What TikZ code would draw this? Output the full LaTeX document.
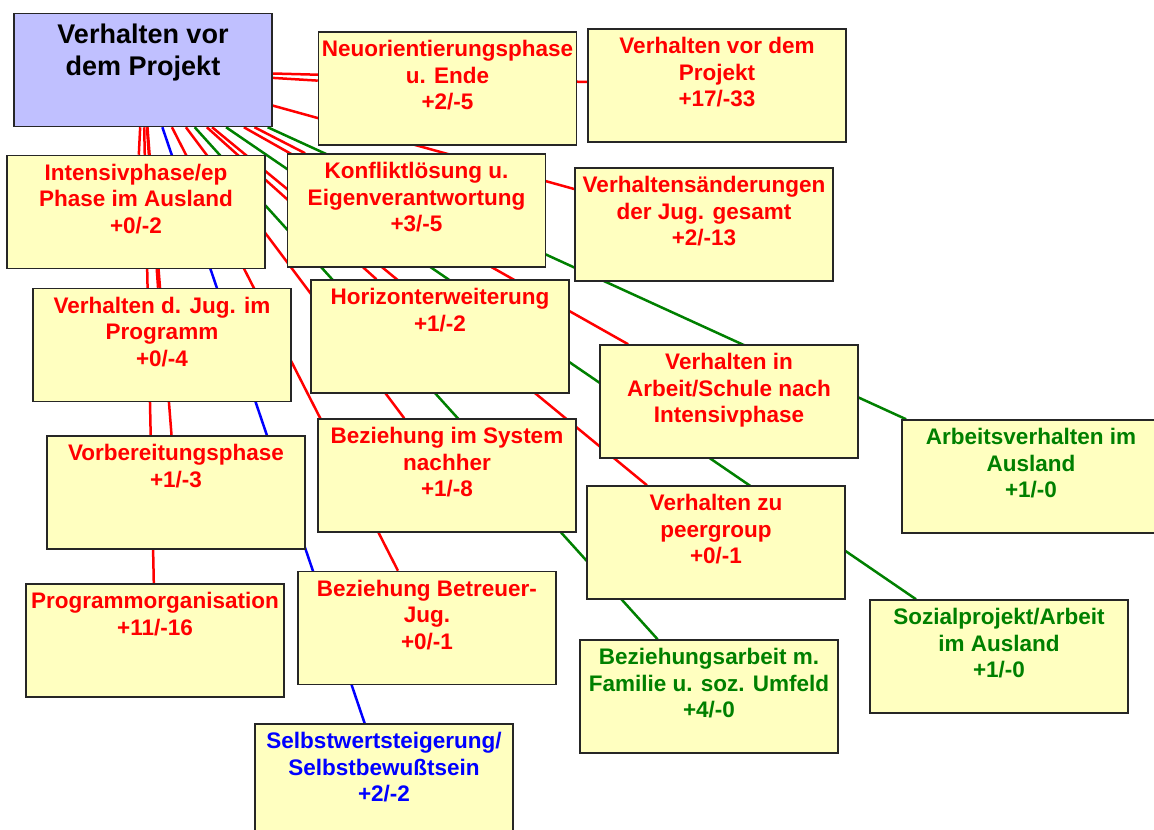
\documentclass[tikz,border=0pt]{standalone}
\usepackage{fontspec}
\setmainfont{Liberation Sans}
\usetikzlibrary{backgrounds}

\definecolor{cellyellow}{RGB}{255,255,192}
\definecolor{rootlilac}{RGB}{192,192,255}
\definecolor{linkred}{RGB}{255,0,0}
\definecolor{linkgreen}{RGB}{0,128,0}
\definecolor{linkblue}{RGB}{0,0,255}

\newcommand{\cellbody}[2][6.3pt]{\parbox[c][113pt][t]{258pt}{\centering\vspace*{#1}\strut#2}}

\begin{document}
\begin{tikzpicture}[%
    x=1pt, y=-1pt,
    cellnode/.style={
        draw=black!85,
        line width=1.5pt,
        fill=cellyellow,
        rectangle,
        inner sep=0pt,
        font=\bfseries\fontsize{22.5}{26.5}\selectfont,
        text=linkred
        },
    rootnode/.style={%
        cellnode,
        fill=rootlilac,
        font=\bfseries\fontsize{27}{32}\selectfont,
        text=black},
    link/.style={line width=2.5pt},
]

\useasboundingbox (0,0) rectangle (1154,830);

\node[rootnode] (root) at (143,70) {\cellbody[7.3pt]{Verhalten vor\\dem Projekt}};

\node[cellnode] (neu) at (447.5,88.5) {\cellbody{Neuorientierungsphase\\u. Ende\\+2/-5}};
\node[cellnode] (vor) at (717,85.5) {\cellbody{Verhalten vor dem\\Projekt\\+17/-33}};
\node[cellnode] (intens) at (136,212) {\cellbody{Intensivphase/ep\\Phase im Ausland\\+0/-2}};
\node[cellnode] (konflikt) at (416.5,210.5) {\cellbody{Konfliktlösung u.\\Eigenverantwortung\\+3/-5}};
\node[cellnode] (gesamt) at (704,224.5) {\cellbody{Verhaltensänderungen\\der Jug. gesamt\\+2/-13}};
\node[cellnode] (programm) at (162,345) {\cellbody{Verhalten d. Jug. im\\Programm\\+0/-4}};
\node[cellnode] (horizont) at (440,336.5) {\cellbody{Horizonterweiterung\\+1/-2}};
\node[cellnode] (schule) at (729,401.5) {\cellbody{Verhalten in\\Arbeit/Schule nach\\Intensivphase}};
\node[cellnode, text=linkgreen] (arbeit) at (1031,476.5) {\cellbody{Arbeitsverhalten im\\Ausland\\+1/-0}};
\node[cellnode] (system) at (447,475.5) {\cellbody{Beziehung im System\\nachher\\+1/-8}};
\node[cellnode] (vorber) at (176,492.5) {\cellbody{Vorbereitungsphase\\+1/-3}};
\node[cellnode] (peer) at (716,542.5) {\cellbody{Verhalten zu\\peergroup\\+0/-1}};
\node[cellnode] (orga) at (155,640.5) {\cellbody{Programmorganisation\\+11/-16}};
\node[cellnode] (betreuer) at (427,628) {\cellbody{Beziehung Betreuer-\\Jug.\\+0/-1}};
\node[cellnode, text=linkgreen] (sozial) at (999,656.5) {\cellbody{Sozialprojekt/Arbeit\\im Ausland\\+1/-0}};
\node[cellnode, text=linkgreen] (familie) at (709,696.5) {\cellbody{Beziehungsarbeit m.\\Familie u. soz. Umfeld\\+4/-0}};
\node[cellnode, text=linkblue] (selbst) at (384,780.5) {\cellbody{Selbstwertsteigerung/\\Selbstbewußtsein\\+2/-2}};

\begin{scope}[on background layer]
\foreach \target/\tint in {neu/linkred, vor/linkred, intens/linkred, konflikt/linkred,
        gesamt/linkred, programm/linkred, horizont/linkred, schule/linkred,
        arbeit/linkgreen, system/linkred, vorber/linkred, peer/linkred,
        orga/linkred, betreuer/linkred, sozial/linkgreen, familie/linkgreen,
        selbst/linkblue}
    \draw[link, \tint] (root) -- (\target);
\end{scope}
\end{tikzpicture}
\end{document}
